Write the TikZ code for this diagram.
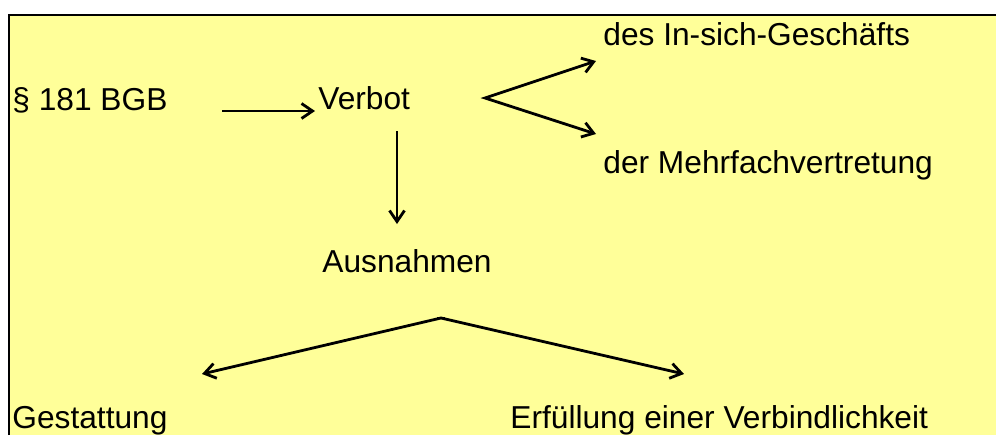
\documentclass[tikz,border=0pt]{standalone}
\usepackage{fontspec}
\setmainfont{Liberation Sans}
\usetikzlibrary{arrows.meta}
\definecolor{paper}{HTML}{FFFF99}
\begin{document}
\begin{tikzpicture}[x=0.5pt,y=-0.5pt,
  >={Straight Barb[length=5.5pt,width=7.5pt,line width=1.4pt]},
  lbl/.style={anchor=base west, inner sep=0pt, font=\fontsize{15.85}{19}\selectfont},
  arr/.style={line width=1.4pt, ->},
  twoarr/.style={line width=1.4pt, <->}]
\useasboundingbox (0,0) rectangle (996,435);
% sheet with a rule on the top and left edge
\fill[paper] (9,15) rectangle (996,435);
\draw[line width=1.2pt] (9,435) -- (9,15) -- (996,15);

% labels
\node[lbl] (bgb) at (12,110) {§ 181 BGB};
\node[lbl] (verbot) at (318,109) {Verbot};
\node[lbl] (insich) at (603,45) {des In-sich-Geschäfts};
\node[lbl] (mehrfach) at (603,173) {der Mehrfachvertretung};
\node[lbl] (ausnahmen) at (322,272) {Ausnahmen};
\node[lbl] (gestattung) at (12,428) {Gestattung};
\node[lbl] (erfuellung) at (510,428) {Erfüllung einer Verbindlichkeit};

% arrow ends
\coordinate (bgbout) at (222,111);
\coordinate (verbotin) at (315,111);
\coordinate (forkverbot) at (485,98);
\coordinate (insichin) at (596,61);
\coordinate (mehrfachin) at (596,134);
\coordinate (verbotdown) at (397,131);
\coordinate (ausnahmenin) at (397,224);
\coordinate (forkausn) at (441,318);
\coordinate (gestattungin) at (202,374);
\coordinate (erfuellungin) at (684,374);

% connectors
\draw[arr] (bgbout) -- (verbotin);
\draw[twoarr] (insichin) -- (forkverbot) -- (mehrfachin);
\draw[arr] (verbotdown) -- (ausnahmenin);
\draw[twoarr] (gestattungin) -- (forkausn) -- (erfuellungin);
\draw[line width=1.2pt] ([xshift=-2pt]forkausn) -- ([xshift=2pt]forkausn);
\end{tikzpicture}
\end{document}
